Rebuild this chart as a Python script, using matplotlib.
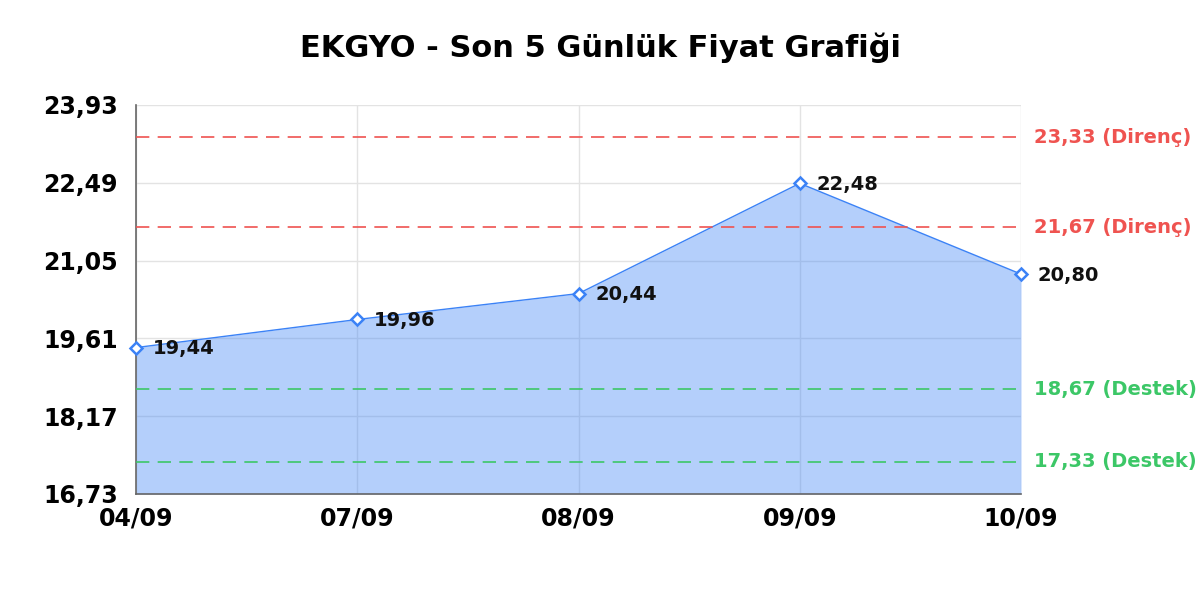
import matplotlib
matplotlib.use("Agg")
import matplotlib.pyplot as plt

dates = ["04/09", "07/09", "08/09", "09/09", "10/09"]
prices = [19.44, 19.96, 20.44, 22.48, 20.80]
price_labels = ["19,44", "19,96", "20,44", "22,48", "20,80"]
resistance = [23.33, 21.67]
resistance_labels = ["23,33 (Direnç)", "21,67 (Direnç)"]
support = [18.67, 17.33]
support_labels = ["18,67 (Destek)", "17,33 (Destek)"]
yticks = [16.73, 18.17, 19.61, 21.05, 22.49, 23.93]
ytick_labels = ["16,73", "18,17", "19,61", "21,05", "22,49", "23,93"]
title = "EKGYO - Son 5 Günlük Fiyat Grafiği"

blue = "#3b82f6"
red = "#ef5350"
green = "#3cc767"

fig = plt.figure(figsize=(12, 6), dpi=100)
ax = fig.add_axes([136/1200, 106/600, (1021-136)/1200, (494-105)/600])

x = list(range(len(dates)))
ax.set_xlim(0, len(dates) - 1)
ax.set_ylim(yticks[0], yticks[-1])

ax.set_axisbelow(True)
ax.grid(True, color="#e3e3e3", linewidth=1.0)
ax.fill_between(x, prices, yticks[0], color=blue, alpha=0.38, linewidth=0, zorder=2)
ax.plot(x, prices, color=blue, linewidth=1.0, zorder=3)
ax.plot(x, prices, linestyle="none", marker="D", markersize=6.5,
        markerfacecolor="white", markeredgecolor=blue, markeredgewidth=1.8, zorder=4, clip_on=False)

for xi, p, lab in zip(x, prices, price_labels):
    ax.annotate(lab, (xi, p), xytext=(12, -1), textcoords="offset points",
                ha="left", va="center", fontsize=14, fontweight="bold", color="#111111", zorder=5)

for v, lab in zip(resistance, resistance_labels):
    ax.axhline(v, color=red, linewidth=1.2, linestyle=(0, (8, 5)), zorder=3)
    ax.annotate(lab, (1, v), xycoords=("axes fraction", "data"), xytext=(9, 0),
                textcoords="offset points", ha="left", va="center",
                fontsize=14, fontweight="bold", color=red, annotation_clip=False)
for v, lab in zip(support, support_labels):
    ax.axhline(v, color=green, linewidth=1.2, linestyle=(0, (8, 5)), zorder=3)
    ax.annotate(lab, (1, v), xycoords=("axes fraction", "data"), xytext=(9, 0),
                textcoords="offset points", ha="left", va="center",
                fontsize=14, fontweight="bold", color=green, annotation_clip=False)

ax.set_xticks(x)
ax.set_xticklabels(dates, fontsize=17, fontweight="bold")
ax.set_yticks(yticks)
ax.set_yticklabels(ytick_labels, fontsize=17, fontweight="bold")
ax.tick_params(axis="both", length=0)
ax.tick_params(axis="x", pad=9)
ax.tick_params(axis="y", pad=13)

for s in ["top", "right"]:
    ax.spines[s].set_visible(False)
for s in ["left", "bottom"]:
    ax.spines[s].set_color("#666666")
    ax.spines[s].set_linewidth(1.2)

fig.text(0.5, 1 - 48/600, title, ha="center", va="center", fontsize=22, fontweight="bold")

fig.savefig("out.png", dpi=100)
